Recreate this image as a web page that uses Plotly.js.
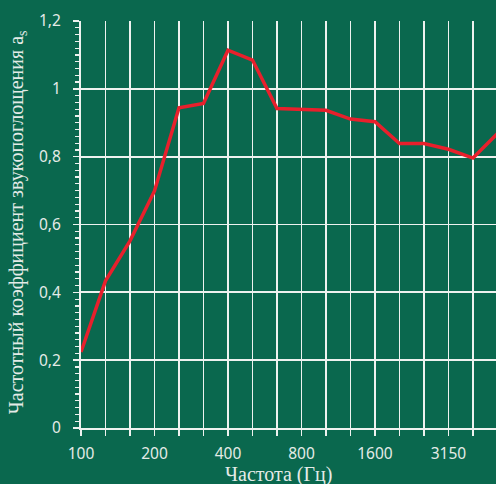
<!DOCTYPE html>
<html>
<head>
<meta charset="utf-8">
<script src="https://cdn.plot.ly/plotly-3.0.1.min.js"></script>
<style>
  html, body { margin: 0; padding: 0; background: #0a684e; }
  #chart { width: 496px; height: 484px; }
</style>
</head>
<body>
<div id="chart"></div>
<script>
// Frequencies (Hz), 1/3 octave bands
var frequencies = ['100','125','160','200','250','315','400','500','630','800','1000','1250','1600','2000','2500','3150','4000','5000'];
// Absorption coefficient values
var absorption = [0.224, 0.434, 0.552, 0.699, 0.944, 0.957, 1.114, 1.085, 0.942, 0.940, 0.937, 0.911, 0.903, 0.839, 0.839, 0.822, 0.796, 0.868];
// Tick labels (only every third band labelled)
var xTickLabels = ['100','','','200','','','400','','','800','','','1600','','','3150','',''];

var fg = '#e4ebe7';
var gridCol = '#eef2ef';

var trace = {
  type: 'scatter',
  mode: 'lines',
  x: frequencies,
  y: absorption,
  line: { color: '#e8202c', width: 3.5 },
  hoverinfo: 'skip'
};

var layout = {
  width: 496,
  height: 484,
  margin: { l: 81, r: 0, t: 21, b: 56, pad: 0 },
  paper_bgcolor: '#0a684e',
  plot_bgcolor: '#0a684e',
  separators: ', ',
  showlegend: false,
  xaxis: {
    type: 'category',
    categoryorder: 'array',
    categoryarray: frequencies,
    range: [0, 16.94],
    tickmode: 'array',
    tickvals: frequencies,
    ticktext: xTickLabels,
    ticks: 'outside',
    ticklen: 6,
    tickwidth: 1.6,
    tickcolor: gridCol,
    ticklabelstandoff: 4,
    showline: true,
    linecolor: gridCol,
    linewidth: 2,
    showgrid: true,
    gridcolor: gridCol,
    gridwidth: 1.8,
    zeroline: false,
    tickfont: { family: 'Noto Sans, sans-serif', size: 15.5, color: fg }
  },
  yaxis: {
    range: [0, 1.2001],
    dtick: 0.2,
    tick0: 0,
    ticks: 'outside',
    ticklen: 6,
    tickwidth: 1.6,
    tickcolor: gridCol,
    ticklabelstandoff: 9,
    showline: true,
    linecolor: gridCol,
    linewidth: 2,
    showgrid: true,
    gridcolor: gridCol,
    gridwidth: 1.8,
    zeroline: false,
    minor: { dtick: 0.02, ticks: 'outside', ticklen: 4, tickwidth: 1.2, tickcolor: gridCol, showgrid: false },
    tickfont: { family: 'Noto Sans, sans-serif', size: 15.5, color: fg }
  },
  annotations: [
    {
      text: 'Частота (Гц)',
      xref: 'paper', yref: 'paper',
      x: 0.475, y: -0.115,
      xanchor: 'center', yanchor: 'middle',
      showarrow: false,
      font: { family: 'Liberation Serif, serif', size: 20, color: fg }
    },
    {
      text: 'Частотный коэффициент звукопоглощения a<sub>s</sub>',
      xref: 'paper', yref: 'paper',
      x: -0.154, y: 0.506,
      xanchor: 'center', yanchor: 'middle',
      textangle: -90,
      showarrow: false,
      font: { family: 'Liberation Serif, serif', size: 20, color: fg }
    }
  ]
};

Plotly.newPlot('chart', [trace], layout, { displayModeBar: false, staticPlot: true });
</script>
</body>
</html>
